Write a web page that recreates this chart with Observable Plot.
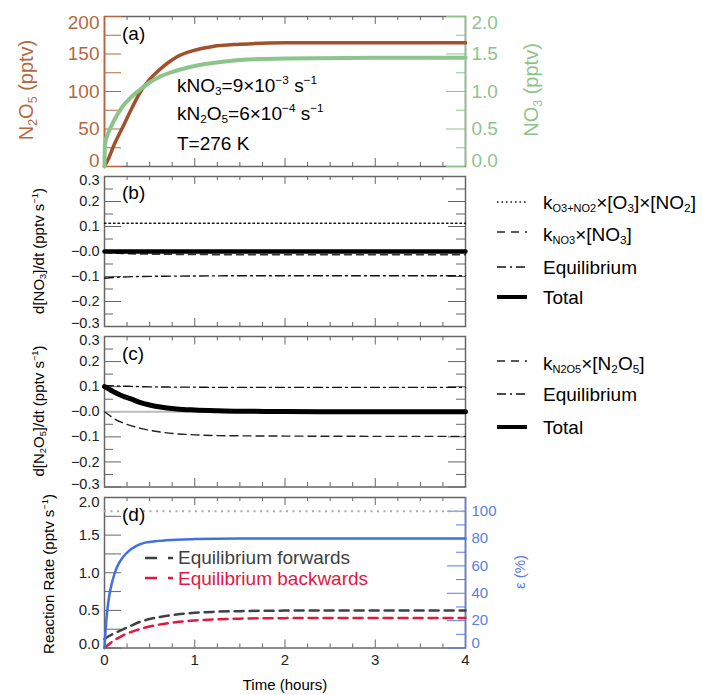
<!DOCTYPE html>
<html><head><meta charset="utf-8">
<script src="https://cdn.jsdelivr.net/npm/d3@7"></script>
<script src="https://cdn.jsdelivr.net/npm/@observablehq/plot@0.6"></script>
<style>
body{margin:0;background:#fff;}
#chart{position:relative;width:703px;height:695px;font-family:"Liberation Sans",Arial,Helvetica,sans-serif;overflow:hidden;background:#fff;}
#chart svg{position:absolute;left:0;top:0;}
.t{position:absolute;white-space:nowrap;line-height:1;transform:translateY(-50%);}
.c{position:absolute;white-space:nowrap;line-height:1;transform:translate(-50%,-50%);}
.r{position:absolute;white-space:nowrap;line-height:1;transform:translate(-50%,-50%) rotate(-90deg);}
sub{font-size:0.62em;vertical-align:-0.3em;line-height:0}
sup{font-size:0.62em;vertical-align:0.6em;line-height:0}
.sw{position:absolute;}
</style></head>
<body><div id="chart"></div>
<script>
// ---------------- data ----------------
// Panel (a)
const tN2O5 = [0, 0.05, 0.1, 0.2, 0.3, 0.4, 0.5, 0.6, 0.7, 0.8, 1.0, 1.2, 1.5, 2.0, 3.0, 4.0];
const n2o5  = [0, 12, 27, 52, 77, 100, 116, 128, 138, 146, 155, 160, 163, 165, 165, 165];
const tNO3 = [0, 0.005, 0.05, 0.1, 0.2, 0.3, 0.4, 0.5, 0.6, 0.8, 1.0, 1.2, 1.5, 2.0, 3.0, 4.0];
const no3  = [0, 0.30, 0.47, 0.60, 0.80, 0.93, 1.03, 1.12, 1.19, 1.28, 1.34, 1.38, 1.42, 1.44, 1.45, 1.45];
// Panel (b)
const tB      = [0, 0.1, 0.2, 0.4, 0.6, 1.0, 1.5, 2.0, 3.0, 4.0];
const prodNO3 = [0.113, 0.113, 0.113, 0.113, 0.113, 0.113, 0.113, 0.113, 0.113, 0.113];
const lossNO3 = [-0.003, -0.006, -0.008, -0.010, -0.011, -0.012, -0.013, -0.013, -0.013, -0.013];
const eqB     = [-0.107, -0.104, -0.102, -0.100, -0.099, -0.098, -0.097, -0.097, -0.097, -0.097];
const totB    = [0, 0, 0, 0, 0, 0, 0, 0, 0, 0];
// Panel (c)
const tC       = [0, 0.05, 0.1, 0.2, 0.3, 0.4, 0.5, 0.6, 0.8, 1.0, 1.25, 1.5, 2.0, 3.0, 4.0];
const lossN2O5 = [0, -0.013, -0.026, -0.044, -0.056, -0.066, -0.074, -0.080, -0.088, -0.092, -0.095, -0.096, -0.097, -0.098, -0.098];
const eqC      = [0.105, 0.104, 0.103, 0.102, 0.101, 0.100, 0.099, 0.099, 0.098, 0.098, 0.097, 0.097, 0.097, 0.097, 0.097];
const totC     = [0.100, 0.090, 0.080, 0.063, 0.050, 0.036, 0.027, 0.020, 0.011, 0.007, 0.004, 0.002, 0.001, 0, 0];
// Panel (d)
const tEps = [0, 0.02, 0.045, 0.08, 0.12, 0.16, 0.2, 0.27, 0.35, 0.45, 0.6, 0.8, 1.0, 1.5, 2.0, 3.0, 4.0];
const eps  = [0, 20, 35, 47, 56, 62, 66, 71, 74.5, 77, 78.3, 79.2, 79.6, 80, 80, 80, 80];
const tFB  = [0, 0.05, 0.1, 0.2, 0.3, 0.4, 0.5, 0.6, 0.8, 1.0, 1.2, 1.5, 2.0, 3.0, 4.0];
const fwd  = [0.12, 0.16, 0.19, 0.245, 0.30, 0.35, 0.385, 0.41, 0.445, 0.467, 0.48, 0.49, 0.497, 0.5, 0.5];
const bwd  = [0, 0.05, 0.095, 0.165, 0.215, 0.255, 0.285, 0.31, 0.345, 0.365, 0.378, 0.39, 0.397, 0.4, 0.4];
const epsRef = [100];

// ticks
const xMajor = [0, 1, 2, 3, 4];
const xMinor = [0.25, 0.5, 0.75, 1.25, 1.5, 1.75, 2.25, 2.5, 2.75, 3.25, 3.5, 3.75];
const aLeftTicks = [0, 25, 50, 75, 100, 125, 150, 175, 200];
const aLabels = [0, 50, 100, 150, 200];
const aRightMinor = [25, 75, 125, 175];
const bcMajor = [-0.3, -0.2, -0.1, 0, 0.1, 0.2, 0.3];
const bcMinor = [-0.25, -0.15, -0.05, 0.05, 0.15, 0.25];
const dLeftTicks = [0, 0.25, 0.5, 0.75, 1, 1.25, 1.5, 1.75, 2];
const dLabels = [0, 0.5, 1, 1.5, 2];
const epsMajor = [0, 20, 40, 60, 80, 100];
const epsMinor = [10, 30, 50, 70, 90];

// ---------------- styling ----------------
const W = 703, H = 695, FL = 104, FR = 465, FW = FR - FL;
const FONT = '"Liberation Sans", Arial, Helvetica, sans-serif';
const BROWN = "#a2502c", BROWN_AX = "#b5683f";
const GREEN = "#8cc58c", GREEN_AX = "#8dc48d";
const BLUE = "#4070e2", BLUE_AX = "#5a7de6";
const RED = "#e3173f", DARK = "#404040", FRAME = "#666";
const K = 2 / 110; // epsilon (%) -> left axis units in panel (d)
const chart = document.getElementById("chart");
const rows = (ts, vs) => ts.map((t, i) => ({t, v: vs[i]}));

function panel(top, bottom, y, marks) {
  const svg = Plot.plot({
    width: W, height: H,
    marginLeft: FL, marginRight: W - FR, marginTop: top, marginBottom: H - bottom,
    x: {domain: [0, 4], label: null, axis: null},
    y: {...y, label: null, axis: null},
    style: {fontFamily: FONT, background: "transparent", overflow: "visible", color: "#222"},
    marks
  });
  chart.appendChild(svg);
}
function xTicks(fh) {
  return [
    Plot.tickX(xMajor, {stroke: FRAME, insetTop: fh - 8}),
    Plot.tickX(xMajor, {stroke: FRAME, insetBottom: fh - 8}),
    Plot.tickX(xMinor, {stroke: FRAME, insetTop: fh - 4}),
    Plot.tickX(xMinor, {stroke: FRAME, insetBottom: fh - 4})
  ];
}
const fmt1 = d3.format(".1f");
const fmtZ = d => d === 0 ? "\u22120.0" : fmt1(d);

// ---------------- panel (a) ----------------
panel(16, 166, {domain: [0, 200]}, [
  Plot.frame({stroke: FRAME, strokeWidth: 1.5}),
  ...xTicks(150),
  Plot.ruleX([0], {stroke: BROWN_AX, strokeWidth: 1.5}),
  Plot.ruleX([4], {stroke: GREEN_AX, strokeWidth: 1.5}),
  Plot.tickY(aLeftTicks, {stroke: BROWN_AX, insetRight: FW - 17}),
  Plot.tickY(aLabels, {stroke: GREEN_AX, insetLeft: FW - 19}),
  Plot.tickY(aRightMinor, {stroke: GREEN_AX, insetLeft: FW - 9}),
  Plot.line(rows(tN2O5, n2o5), {x: "t", y: "v", stroke: BROWN, strokeWidth: 3.5, curve: "monotone-x"}),
  Plot.line(rows(tNO3, no3), {x: "t", y: d => d.v * 100, stroke: GREEN, strokeWidth: 4, curve: "monotone-x"}),
  Plot.axisY(aLabels.slice(1, -1), {anchor: "left", tickSize: 0, tickPadding: 5, fontSize: 19, color: BROWN_AX, label: null}),
  Plot.axisY([200], {anchor: "left", tickSize: 0, tickPadding: 5, fontSize: 19, color: BROWN_AX, dy: 6, label: null}),
  Plot.axisY([0], {anchor: "left", tickSize: 0, tickPadding: 5, fontSize: 19, color: BROWN_AX, dy: -6, label: null}),
  Plot.axisY(aLabels.slice(1, -1), {anchor: "right", tickSize: 0, tickPadding: 6, fontSize: 19, color: GREEN_AX, tickFormat: d => (d / 100).toFixed(1), label: null}),
  Plot.axisY([200], {anchor: "right", tickSize: 0, tickPadding: 6, fontSize: 19, color: GREEN_AX, dy: 6, tickFormat: d => (d / 100).toFixed(1), label: null}),
  Plot.axisY([0], {anchor: "right", tickSize: 0, tickPadding: 6, fontSize: 19, color: GREEN_AX, dy: -6, tickFormat: d => (d / 100).toFixed(1), label: null})
]);

function bcAxes() {
  return [
    Plot.frame({stroke: FRAME, strokeWidth: 1.5}),
    ...xTicks(150),
    Plot.tickY(bcMajor, {stroke: FRAME, insetRight: FW - 17}),
    Plot.tickY(bcMinor, {stroke: FRAME, insetRight: FW - 9}),
    Plot.tickY(bcMajor, {stroke: FRAME, insetLeft: FW - 17}),
    Plot.tickY(bcMinor, {stroke: FRAME, insetLeft: FW - 9}),
    Plot.axisY(bcMajor.slice(1, -1), {anchor: "left", tickSize: 0, tickPadding: 5, fontSize: 14.5, tickFormat: fmtZ, label: null}),
    Plot.axisY([0.3], {anchor: "left", tickSize: 0, tickPadding: 5, fontSize: 14.5, tickFormat: fmtZ, dy: 4, label: null}),
    Plot.axisY([-0.3], {anchor: "left", tickSize: 0, tickPadding: 5, fontSize: 14.5, tickFormat: fmtZ, dy: -3, label: null})
  ];
}

// ---------------- panel (b) ----------------
panel(176, 326, {domain: [-0.3, 0.3]}, [
  ...bcAxes(),
  Plot.ruleY([0], {stroke: "#bbb", strokeWidth: 2}),
  Plot.line(rows(tB, prodNO3), {x: "t", y: "v", stroke: "#111", strokeWidth: 1.4, strokeDasharray: "1.5,3"}),
  Plot.line(rows(tB, lossNO3), {x: "t", y: "v", stroke: "#333", strokeWidth: 1.5, strokeDasharray: "7,5", curve: "monotone-x"}),
  Plot.line(rows(tB, eqB), {x: "t", y: "v", stroke: "#111", strokeWidth: 1.4, strokeDasharray: "9,4,2,4", curve: "monotone-x"}),
  Plot.line(rows(tB, totB), {x: "t", y: "v", stroke: "#000", strokeWidth: 4.5})
]);

// ---------------- panel (c) ----------------
panel(336, 486.5, {domain: [-0.3, 0.3]}, [
  ...bcAxes(),
  Plot.ruleY([0], {stroke: "#bbb", strokeWidth: 2}),
  Plot.line(rows(tC, lossN2O5), {x: "t", y: "v", stroke: "#222", strokeWidth: 1.4, strokeDasharray: "8,5", curve: "monotone-x"}),
  Plot.line(rows(tC, eqC), {x: "t", y: "v", stroke: "#111", strokeWidth: 1.4, strokeDasharray: "9,4,2,4", curve: "monotone-x"}),
  Plot.line(rows(tC, totC), {x: "t", y: "v", stroke: "#000", strokeWidth: 5, curve: "monotone-x"})
]);

// ---------------- panel (d) ----------------
panel(497, 647.5, {domain: [0, 2]}, [
  Plot.frame({stroke: FRAME, strokeWidth: 1.5}),
  ...xTicks(150.5),
  Plot.ruleX([4], {stroke: BLUE_AX, strokeWidth: 1.5}),
  Plot.tickY(dLeftTicks, {stroke: FRAME, insetRight: FW - 17}),
  Plot.tickY(epsMajor.map(e => e * K), {stroke: BLUE_AX, insetLeft: FW - 18}),
  Plot.tickY(epsMinor.map(e => e * K), {stroke: BLUE_AX, insetLeft: FW - 9}),
  Plot.ruleY(epsRef, {y: d => d * K, stroke: "#aaa", strokeWidth: 2, strokeDasharray: "2,4.5"}),
  Plot.line(rows(tFB, fwd), {x: "t", y: "v", stroke: DARK, strokeWidth: 2.5, strokeDasharray: "9,6", curve: "monotone-x"}),
  Plot.line(rows(tFB, bwd), {x: "t", y: "v", stroke: RED, strokeWidth: 2.5, strokeDasharray: "9,6", curve: "monotone-x"}),
  Plot.line(rows(tEps, eps), {x: "t", y: d => d.v * K, stroke: BLUE, strokeWidth: 2.5, curve: "monotone-x"}),
  Plot.axisY(dLabels.slice(1, -1), {anchor: "left", tickSize: 0, tickPadding: 5, fontSize: 15, tickFormat: fmt1, label: null}),
  Plot.axisY([2], {anchor: "left", tickSize: 0, tickPadding: 5, fontSize: 15, tickFormat: fmt1, dy: 5, label: null}),
  Plot.axisY([0], {anchor: "left", tickSize: 0, tickPadding: 5, fontSize: 15, tickFormat: fmt1, dy: -4, label: null}),
  Plot.axisY(epsMajor.slice(1).map(e => e * K), {anchor: "right", tickSize: 0, tickPadding: 6, fontSize: 15, color: BLUE_AX, tickFormat: d => Math.round(d / K), label: null}),
  Plot.axisY([0], {anchor: "right", tickSize: 0, tickPadding: 6, fontSize: 15, color: BLUE_AX, dy: -5, tickFormat: d => Math.round(d / K), label: null}),
  Plot.axisX(xMajor, {anchor: "bottom", tickSize: 0, tickPadding: 6, fontSize: 15, label: null})
]);

// ---------------- HTML text overlays ----------------
function sw(x, y, w, dash, width, color) {
  return `<svg class="sw" style="left:${x}px;top:${y - 5}px" width="${w}" height="10"><line x1="0" y1="5" x2="${w}" y2="5" stroke="${color}" stroke-width="${width}" ${dash ? `stroke-dasharray="${dash}"` : ""}/></svg>`;
}
chart.insertAdjacentHTML("beforeend", `
<div class="t" style="left:122px;top:33px;font-size:19px">(a)</div>
<div class="t" style="left:122px;top:192px;font-size:19px">(b)</div>
<div class="t" style="left:122px;top:353px;font-size:19px">(c)</div>
<div class="t" style="left:122px;top:514px;font-size:19px">(d)</div>
<div class="t" style="left:177px;top:85px;font-size:19px">kNO<sub>3</sub>=9×10<sup>−3</sup> s<sup>−1</sup></div>
<div class="t" style="left:177px;top:113px;font-size:19px">kN<sub>2</sub>O<sub>5</sub>=6×10<sup>−4</sup> s<sup>−1</sup></div>
<div class="t" style="left:177px;top:143px;font-size:19px">T=276 K</div>
<div class="r" style="left:26px;top:90px;font-size:20px;color:${BROWN_AX}">N<sub>2</sub>O<sub>5</sub> (pptv)</div>
<div class="r" style="left:531px;top:90px;font-size:20px;color:${GREEN_AX}">NO<sub>3</sub> (pptv)</div>
<div class="r" style="left:38px;top:251px;font-size:15px">d[NO<sub>3</sub>]/dt (pptv s<sup>−1</sup>)</div>
<div class="r" style="left:38px;top:411px;font-size:15px">d[N<sub>2</sub>O<sub>5</sub>]/dt (pptv s<sup>−1</sup>)</div>
<div class="r" style="left:48px;top:574px;font-size:15px">Reaction Rate (pptv s<sup>−1</sup>)</div>
<div class="r" style="left:519px;top:572px;font-size:15px;color:${BLUE_AX}">ε (%)</div>
<div class="c" style="left:285px;top:684px;font-size:15px">Time (hours)</div>
${sw(497, 202, 30, "1.5,3", 1.4, "#111")}
<div class="t" style="left:543px;top:202px;font-size:19px">k<sub style="font-size:11px">O3+NO2</sub>×[O<sub>3</sub>]×[NO<sub>2</sub>]</div>
${sw(497, 232, 30, "8,6", 1.5, "#222")}
<div class="t" style="left:543px;top:234px;font-size:19px">k<sub style="font-size:11px">NO3</sub>×[NO<sub>3</sub>]</div>
${sw(497, 267, 30, "9,4,2,4", 1.4, "#111")}
<div class="t" style="left:543px;top:267px;font-size:19px">Equilibrium</div>
${sw(497, 297, 30, "", 4, "#000")}
<div class="t" style="left:543px;top:297px;font-size:19px">Total</div>
${sw(497, 361, 30, "8,6", 1.5, "#222")}
<div class="t" style="left:543px;top:363px;font-size:19px">k<sub style="font-size:11px">N2O5</sub>×[N<sub>2</sub>O<sub>5</sub>]</div>
${sw(497, 394, 30, "9,4,2,4", 1.4, "#111")}
<div class="t" style="left:543px;top:394px;font-size:19px">Equilibrium</div>
${sw(497, 427, 30, "", 4, "#000")}
<div class="t" style="left:543px;top:427px;font-size:19px">Total</div>
${sw(145, 558, 28, "12,11,5", 2.5, DARK)}
<div class="t" style="left:178px;top:557px;font-size:19px;color:${DARK}">Equilibrium forwards</div>
${sw(145, 578, 28, "12,11,5", 2.5, RED)}
<div class="t" style="left:178px;top:578px;font-size:19px;color:${RED}">Equilibrium backwards</div>
`);
</script></body></html>
